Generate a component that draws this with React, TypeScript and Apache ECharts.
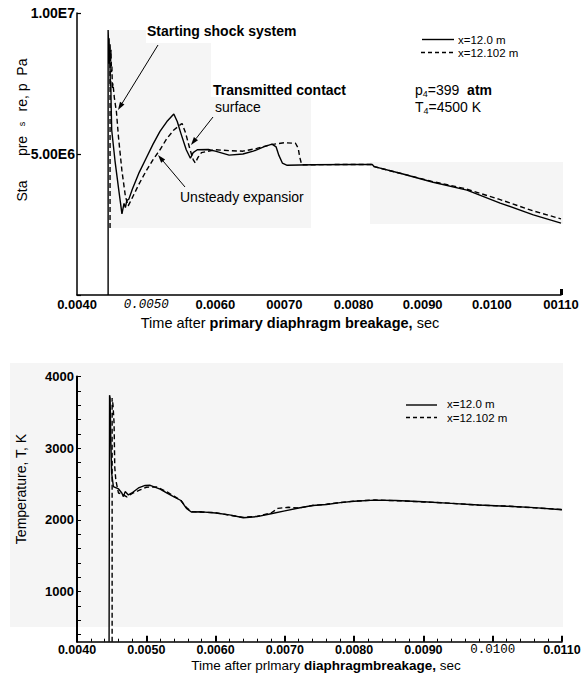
import React, { useEffect, useRef } from 'react';
import * as echarts from 'echarts';

const FONT = '"Liberation Sans", Arial, Helvetica, sans-serif';
const MONO = '"Liberation Mono", "DejaVu Sans Mono", monospace';

// Time axis tick labels (s), one per 0.001 s from 0.0040 to 0.0110
const pressureTimeLabels = ['0.0040', '0.0050', '0.0060', '00070', '0.0080', '0.0090', '0.0100', '00110'];
const temperatureTimeLabels = ['0.0040', '0.0050', '0.0060', '0.0070', '0.0080', '0.0090', '0.0100', '0.0110'];

// Pressure axis labels at 0, 5e6, 1e7 Pa
const pressureLabels = ['', '5.00E6', '1.00E7'];

// Temperature axis: labelled values and tick positions (K)
const temperatureLabelValues = [1000, 2000, 3000, 4000];
const temperatureTickValues = [400, 600, 800, 1000, 1200, 1400, 1600, 1800, 2000, 2200, 2400, 2600, 2800, 3000, 3200, 3400, 3600, 3800, 4000];

// Static pressure at x = 12.0 m
const pSolidTime = [0.00445, 0.00445, 0.004458, 0.004464, 0.00447, 0.004476, 0.004482, 0.004488, 0.004495, 0.004502, 0.00455, 0.0046, 0.00465, 0.00468, 0.0047, 0.00472, 0.00475, 0.0048, 0.0049, 0.005, 0.0051, 0.0052, 0.0053, 0.0054, 0.00545, 0.0055, 0.00558, 0.00564, 0.00568, 0.00574, 0.0059, 0.006, 0.0062, 0.0064, 0.00655, 0.0067, 0.00682, 0.00688, 0.00692, 0.00697, 0.00704, 0.0074, 0.008, 0.00827, 0.0083, 0.0087, 0.00915, 0.00964, 0.01012, 0.0106, 0.011];
const pSolid = [0, 9.4e6, 8.8e6, 9.1e6, 8.2e6, 8.5e6, 7.4e6, 7.6e6, 6.6e6, 5.85e6, 4.75e6, 3.8e6, 2.88e6, 3.25e6, 3.1e6, 3.35e6, 3.4e6, 3.75e6, 4.35e6, 4.85e6, 5.35e6, 5.8e6, 6.15e6, 6.42e6, 6.15e6, 5.75e6, 5.15e6, 4.85e6, 5.05e6, 5.15e6, 5.16e6, 5.1e6, 4.96e6, 5.0e6, 5.1e6, 5.25e6, 5.35e6, 5.25e6, 4.95e6, 4.68e6, 4.6e6, 4.62e6, 4.63e6, 4.63e6, 4.55e6, 4.3e6, 4.0e6, 3.72e6, 3.26e6, 2.84e6, 2.55e6];

// Static pressure at x = 12.102 m
const pDashTime = [0.004478, 0.004478, 0.004486, 0.004492, 0.004498, 0.004505, 0.004512, 0.00452, 0.00454, 0.00457, 0.0046, 0.00465, 0.0047, 0.00474, 0.00477, 0.0048, 0.0049, 0.005, 0.0051, 0.0052, 0.0053, 0.0054, 0.0055, 0.00552, 0.00557, 0.00563, 0.00568, 0.00571, 0.00575, 0.0058, 0.006, 0.0062, 0.0064, 0.0066, 0.0068, 0.007, 0.00716, 0.0072, 0.00722, 0.00725, 0.0074, 0.008, 0.00827, 0.0083, 0.0087, 0.00915, 0.0096, 0.0101, 0.0106, 0.011];
const pDash = [2.38e6, 8.9e6, 8.3e6, 8.7e6, 7.9e6, 8.1e6, 7.3e6, 7.5e6, 7.0e6, 6.5e6, 5.6e6, 4.4e6, 3.5e6, 3.16e6, 3.3e6, 3.45e6, 3.95e6, 4.4e6, 4.8e6, 5.15e6, 5.55e6, 5.85e6, 6.05e6, 6.08e6, 5.75e6, 5.2e6, 4.8e6, 4.68e6, 4.88e6, 5.05e6, 5.15e6, 5.12e6, 5.1e6, 5.2e6, 5.33e6, 5.4e6, 5.38e6, 5.2e6, 4.9e6, 4.62e6, 4.62e6, 4.63e6, 4.63e6, 4.55e6, 4.3e6, 4.02e6, 3.78e6, 3.4e6, 2.98e6, 2.7e6];

// Temperature at x = 12.0 m
const tSolidTime = [0.004463, 0.00447, 0.004478, 0.004488, 0.0045, 0.004525, 0.0046, 0.004647, 0.00467, 0.004695, 0.004742, 0.004792, 0.004887, 0.004984, 0.005056, 0.0052, 0.0053, 0.0054, 0.0055, 0.00558, 0.00565, 0.0058, 0.006, 0.0062, 0.0064, 0.0066, 0.0068, 0.007, 0.0072, 0.0074, 0.0076, 0.0078, 0.008, 0.0083, 0.0086, 0.009, 0.0094, 0.0098, 0.0102, 0.0106, 0.011];
const tSolid = [300, 3740, 3700, 3114, 2654, 2465, 2431, 2375, 2324, 2394, 2347, 2375, 2445, 2480, 2482, 2430, 2372, 2320, 2270, 2160, 2110, 2112, 2095, 2070, 2030, 2045, 2085, 2125, 2165, 2200, 2215, 2240, 2260, 2275, 2270, 2252, 2230, 2208, 2190, 2170, 2140];

// Temperature at x = 12.102 m
const tDashTime = [0.004507, 0.004507, 0.00452, 0.004535, 0.004545, 0.00456, 0.004598, 0.00465, 0.004718, 0.00481, 0.00491, 0.005, 0.00515, 0.0053, 0.0054, 0.0055, 0.00558, 0.00565, 0.006, 0.0062, 0.0064, 0.0066, 0.0068, 0.0069, 0.00705, 0.0072, 0.0074, 0.0076, 0.0078, 0.008, 0.0083, 0.0086, 0.009, 0.0094, 0.0098, 0.0102, 0.0106, 0.011];
const tDash = [300, 3700, 3600, 3350, 2738, 2556, 2375, 2360, 2320, 2375, 2417, 2455, 2459, 2390, 2330, 2270, 2170, 2115, 2100, 2065, 2035, 2050, 2095, 2160, 2175, 2165, 2200, 2218, 2242, 2262, 2276, 2268, 2250, 2232, 2205, 2192, 2168, 2145];

const zip = (xs: number[], ys: number[]) => xs.map((x, i) => [x, ys[i]]);
const timeIndex = (v: number) => Math.round((v - 0.004) / 0.001);

function arrow(x1: number, y1: number, x2: number, y2: number) {
  const a = Math.atan2(y2 - y1, x2 - x1);
  const L = 8;
  const W = 2.6;
  const bx = x2 - L * Math.cos(a);
  const by = y2 - L * Math.sin(a);
  const px = -Math.sin(a) * W;
  const py = Math.cos(a) * W;
  return [
    { type: 'line', z: 50, shape: { x1, y1, x2: bx, y2: by }, style: { stroke: '#000', lineWidth: 1 } },
    { type: 'polygon', z: 50, shape: { points: [[x2, y2], [bx + px, by + py], [bx - px, by - py]] }, style: { fill: '#000' } },
  ];
}

const txt = (x: number, y: number, text: string, extra: any = {}, rotation = 0) => ({
  type: 'text',
  z: 50,
  x,
  y,
  rotation,
  style: {
    text,
    fill: '#000',
    fontFamily: FONT,
    fontSize: 14,
    align: 'left',
    verticalAlign: 'middle',
    ...extra,
  },
});

const shade = (x: number, y: number, w: number, h: number) => ({
  type: 'rect',
  z: -5,
  shape: { x, y, width: w, height: h },
  style: { fill: '#f5f5f5' },
});

const legendLine = (x1: number, x2: number, y: number, dashed: boolean) => ({
  type: 'line',
  z: 50,
  shape: { x1, y1: y, x2, y2: y },
  style: { stroke: '#000', lineWidth: 1.4, lineDash: dashed ? [4, 3] : null },
});

export default function App() {
  const ref = useRef<HTMLDivElement>(null);

  useEffect(() => {
    if (!ref.current) return;
    const chart = echarts.init(ref.current, null, { renderer: 'svg' });

    const axisBlack = { color: '#000', width: 1.5 };
    const lineBase = { type: 'line', showSymbol: false, symbol: 'none', silent: true };

    chart.setOption({
      animation: false,
      backgroundColor: '#fff',
      grid: [
        { left: 77, top: 13, width: 484, height: 282, containLabel: false },
        { left: 77, top: 376.5, width: 485, height: 265.2, containLabel: false },
      ],
      xAxis: [
        {
          type: 'value',
          gridIndex: 0,
          min: 0.004,
          max: 0.011,
          interval: 0.001,
          axisLine: { show: true, onZero: false, lineStyle: axisBlack },
          axisTick: { show: true, inside: true, length: 6, customValues: [0.011], lineStyle: { color: '#000', width: 3 } },
          splitLine: { show: false },
          axisLabel: {
            margin: 3,
            color: '#000',
            fontFamily: FONT,
            fontSize: 13,
            fontWeight: 'bold',
            showMinLabel: true,
            showMaxLabel: true,
            formatter: (v: number) => {
              const s = pressureTimeLabels[timeIndex(v)] ?? '';
              return timeIndex(v) === 1 ? `{it|${s}}` : s;
            },
            rich: {
              it: { fontFamily: MONO, fontStyle: 'italic', fontWeight: 'normal', fontSize: 12.5, color: '#000' },
            },
          },
        },
        {
          type: 'value',
          gridIndex: 1,
          min: 0.004,
          max: 0.011,
          interval: 0.001,
          axisLine: { show: true, onZero: false, lineStyle: axisBlack },
          axisTick: { show: true, inside: true, length: 6, lineStyle: { color: '#000', width: 2 } },
          minorTick: { show: true, splitNumber: 5, length: 3, lineStyle: { color: '#000', width: 1 } },
          splitLine: { show: false },
          axisLabel: {
            margin: 2,
            color: '#000',
            fontFamily: FONT,
            fontSize: 12.5,
            fontWeight: 'bold',
            showMinLabel: true,
            showMaxLabel: true,
            formatter: (v: number) => {
              const s = temperatureTimeLabels[timeIndex(v)] ?? '';
              return timeIndex(v) === 6 ? `{mono|${s}}` : s;
            },
            rich: {
              mono: { fontFamily: MONO, fontWeight: 'normal', fontSize: 12.5, color: '#000' },
            },
          },
        },
      ],
      yAxis: [
        {
          type: 'value',
          gridIndex: 0,
          min: 0,
          max: 1e7,
          interval: 5e6,
          axisLine: { show: true, onZero: false, lineStyle: axisBlack },
          axisTick: { show: true, inside: true, length: 4, lineStyle: { color: '#000', width: 1.2 } },
          splitLine: { show: false },
          axisLabel: {
            margin: 2,
            color: '#000',
            fontFamily: FONT,
            fontSize: 14,
            fontWeight: 'bold',
            formatter: (v: number) => pressureLabels[Math.round(v / 5e6)] ?? '',
          },
        },
        {
          type: 'value',
          gridIndex: 1,
          min: 300,
          max: 4000,
          axisLine: { show: true, onZero: false, lineStyle: { color: '#000', width: 2 } },
          axisTick: { show: true, inside: true, length: 4, customValues: temperatureTickValues, lineStyle: { color: '#000', width: 1 } },
          splitLine: { show: false },
          axisLabel: {
            margin: 3,
            color: '#000',
            fontFamily: FONT,
            fontSize: 13,
            fontWeight: 'bold',
            customValues: temperatureLabelValues,
            formatter: (v: number) => String(v),
          },
        },
      ],
      series: [
        { ...lineBase, name: 'x=12.0 m', xAxisIndex: 0, yAxisIndex: 0, data: zip(pSolidTime, pSolid), lineStyle: { color: '#000', width: 1.4 } },
        { ...lineBase, name: 'x=12.102 m', xAxisIndex: 0, yAxisIndex: 0, data: zip(pDashTime, pDash), lineStyle: { color: '#000', width: 1.4, type: [5, 3] } },
        { ...lineBase, name: 'x=12.0 m', xAxisIndex: 1, yAxisIndex: 1, data: zip(tSolidTime, tSolid), lineStyle: { color: '#000', width: 1.4 } },
        { ...lineBase, name: 'x=12.102 m', xAxisIndex: 1, yAxisIndex: 1, data: zip(tDashTime, tDash), lineStyle: { color: '#000', width: 1.4, type: [5, 3] } },
      ],
      graphic: [
        // light backdrop patches
        shade(108, 30, 38, 198),
        shade(146, 43, 65, 185),
        shade(211, 97, 100, 131),
        shade(370, 162, 193, 62),
        shade(10, 363, 553, 264),

        // pressure panel: axis titles
        txt(22, 191, 'Sta', { align: 'center', fontSize: 14 }, Math.PI / 2),
        txt(22, 146, 'pre', { align: 'center', fontSize: 14 }, Math.PI / 2),
        txt(22, 124, 's', { align: 'center', fontSize: 9 }, Math.PI / 2),
        txt(22, 85, 're, p  Pa', { align: 'center', fontSize: 14 }, Math.PI / 2),
        txt(290, 323, '{r|Time after }{b|primary diaphragm breakage, }{r|sec}', {
          align: 'center',
          rich: {
            r: { fontFamily: FONT, fontSize: 14.5, fill: '#000' },
            b: { fontFamily: FONT, fontSize: 14.5, fontWeight: 'bold', fill: '#000' },
          },
        }),

        // pressure panel: annotations
        txt(147, 31, 'Starting shock system', { fontWeight: 'bold' }),
        ...arrow(158, 45, 118, 110),
        txt(213, 90, 'Transmitted contact', { fontWeight: 'bold' }),
        txt(215, 107, 'surface'),
        ...arrow(213, 117, 191, 145),
        txt(180, 197, 'Unsteady expansior'),
        ...arrow(185, 187, 158, 155),

        // pressure panel: legend and driver conditions
        legendLine(422, 454, 39.5, false),
        txt(458, 39.5, 'x=12.0 m', { fontSize: 11.5 }),
        legendLine(421, 455, 52.5, true),
        txt(458, 52.5, 'x=12.102 m', { fontSize: 11.5 }),
        txt(415, 90, '{m|p}{s|4}{m|=399  }{b|atm}', {
          rich: {
            m: { fontFamily: FONT, fontSize: 14, fill: '#000', lineHeight: 16 },
            b: { fontFamily: FONT, fontSize: 14, fontWeight: 'bold', fill: '#000', lineHeight: 16 },
            s: { fontFamily: FONT, fontSize: 9, fill: '#000', verticalAlign: 'bottom', lineHeight: 16 },
          },
        }),
        txt(415, 107, '{m|T}{s|4}{m|=4500 K}', {
          rich: {
            m: { fontFamily: FONT, fontSize: 14, fill: '#000', lineHeight: 16 },
            s: { fontFamily: FONT, fontSize: 9, fill: '#000', verticalAlign: 'bottom', lineHeight: 16 },
          },
        }),

        // temperature panel: axis titles
        txt(21, 489, 'Temperature, T, K', { align: 'center', fontSize: 14 }, Math.PI / 2),
        txt(326, 665, '{r|Time after prlmary }{b|diaphragmbreakage, }{r|sec}', {
          align: 'center',
          rich: {
            r: { fontFamily: FONT, fontSize: 13.5, fill: '#000' },
            b: { fontFamily: FONT, fontSize: 13.5, fontWeight: 'bold', fill: '#000' },
          },
        }),

        // temperature panel: legend
        legendLine(406, 437, 405, false),
        txt(447, 404, 'x=12.0 m', { fontSize: 11.5 }),
        legendLine(406, 437, 417.5, true),
        txt(447, 417.5, 'x=12.102 m', { fontSize: 11.5 }),
      ],
    });

    return () => chart.dispose();
  }, []);

  return <div ref={ref} style={{ position: 'absolute', left: 0, top: 0, width: 588, height: 673 }} />;
}
